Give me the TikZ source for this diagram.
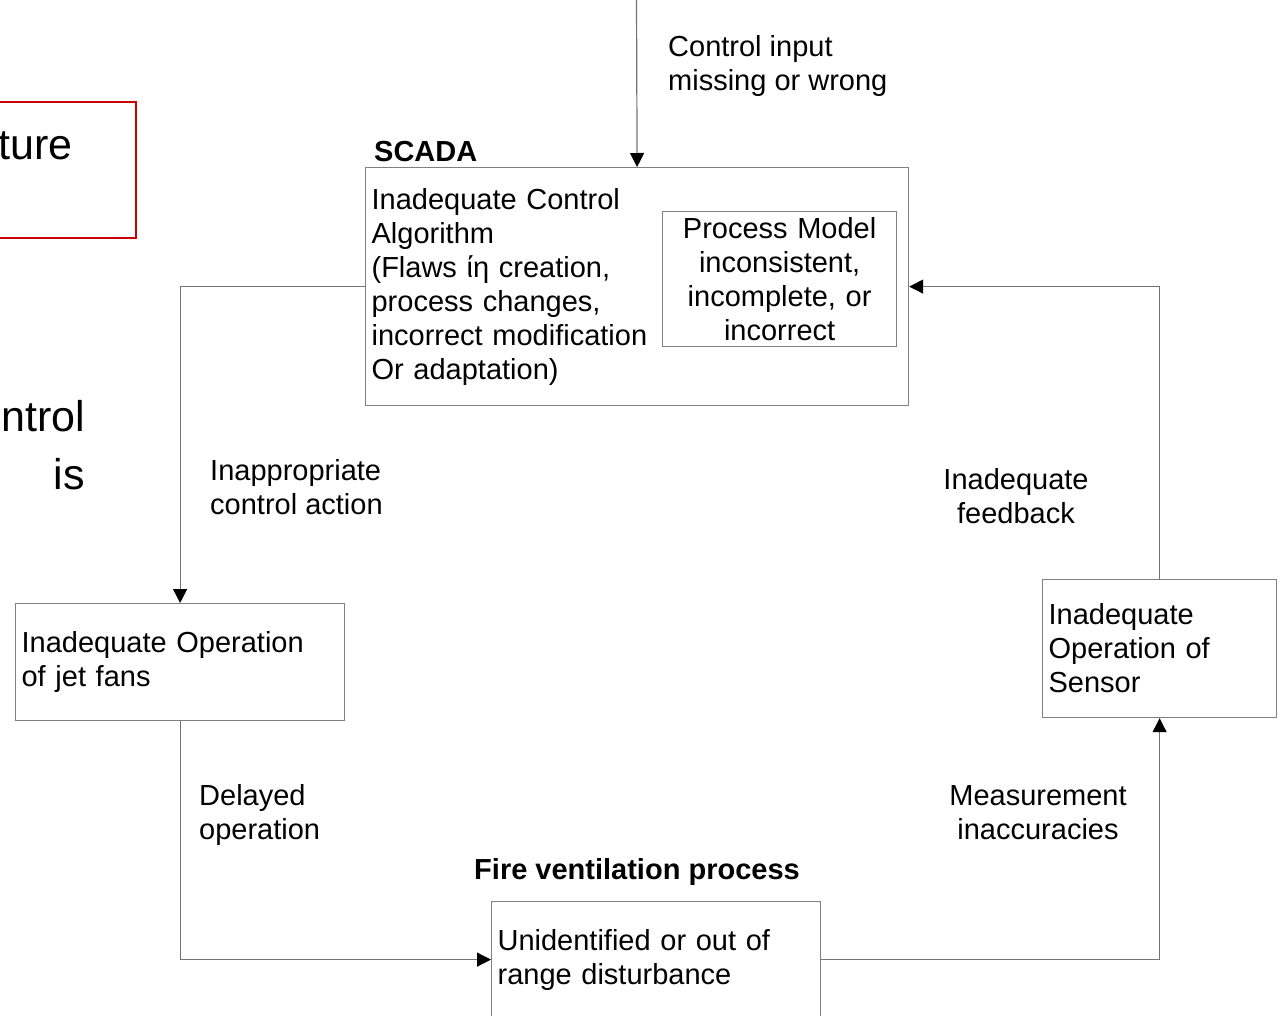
\documentclass[tikz,border=0pt]{standalone}
\usepackage{fontspec}
\setmainfont{Liberation Sans}
\usetikzlibrary{arrows.meta,positioning}

\begin{document}
\begin{tikzpicture}[x=1pt,y=-1pt,>={Triangle[width=14pt,length=14pt,color=black]},
                    every node/.style={font=\fontsize{29}{34}\selectfont}]

  \tikzstyle{block}=[rectangle,draw=black!50,line width=1.2pt,anchor=north west,
                     inner xsep=6pt,inner ysep=0pt,align=left]
  \tikzstyle{link}=[->,draw=black!55,line width=1.2pt]
  \tikzstyle{caption}=[inner sep=0pt,align=left]
  \tikzstyle{slide}=[inner sep=0pt,font=\fontsize{43}{50}\selectfont]

  \useasboundingbox (0,0) rectangle (1281,1015);

  % bits of the slide behind the diagram
  \draw[red!80!black,line width=2pt] (-20,102) rectangle (136,238);
  \node[slide,anchor=base east] (ture)  at (73,159)  {ture};
  \node[slide,anchor=base east] (ntrol) at (85,431)  {ntrol};
  \node[slide,anchor=base east] (is)    at (85,489)  {is};

  % controller
  \node[caption,anchor=base west,font=\bfseries\fontsize{29}{34}\selectfont] (scadat) at (374,161) {SCADA};
  \node[block,minimum width=543pt,minimum height=238pt,text width=531pt] (scada) at (365,167)
       {Inadequate Control\\Algorithm\\(Flaws ίη creation,\\process changes,\\incorrect modification\\Or adaptation)};
  \node[block,align=center,minimum width=234pt,minimum height=135pt,text width=222pt] (model) at (662,211)
       {Process Model\\inconsistent,\\incomplete, or\\incorrect};

  % actuator, process, sensor
  \node[block,minimum width=329pt,minimum height=117pt,text width=317pt] (jet) at (15,603)
       {Inadequate Operation\\of jet fans};
  \node[caption,anchor=base,font=\bfseries\fontsize{29}{34}\selectfont] (firet) at (637,879) {Fire ventilation process};
  \node[block,minimum width=329pt,minimum height=116pt,text width=317pt] (dist) at (491,901)
       {Unidentified or out of\\range disturbance};
  \node[block,minimum width=234pt,minimum height=138pt,text width=222pt] (sensor) at (1042,579)
       {Inadequate\\Operation of\\Sensor};

  % connectors
  \coordinate (in) at (636.5,0);
  \draw[link] (in) -- (scada.north);
  \draw[link] (scada.west) -| (jet.north);
  \draw[link] (jet.south) |- (dist.west);
  \draw[link] (dist.east) -| (sensor.south);
  \draw[link] (sensor.north) |- (scada.east);

  % connector labels
  \node[caption,anchor=west] (inl)   at (668,66)  {Control input\\missing or wrong};
  \node[caption,anchor=west] (actl)  at (210,487) {Inappropriate\\control action};
  \node[caption,align=center] (fbl)  at (1016,496) {Inadequate\\feedback};
  \node[caption,anchor=west] (dell)  at (199,815) {Delayed\\operation};
  \node[caption,align=center] (meal) at (1038,813) {Measurement\\inaccuracies};
\end{tikzpicture}
\end{document}
